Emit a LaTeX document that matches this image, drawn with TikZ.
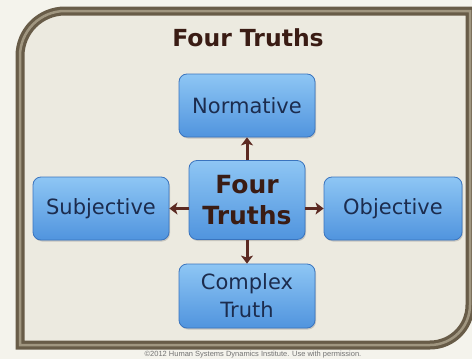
\documentclass[tikz,border=0pt]{standalone}
\usepackage{fontspec}
\setmainfont{DejaVu Sans}
\newfontfamily\notefont{Liberation Sans}
\usepackage{xcolor}
\usetikzlibrary{arrows.meta,shadows,shadings}
\definecolor{paper}{RGB}{236,234,224}
\definecolor{frameouter}{RGB}{104,92,72}
\definecolor{framelight}{RGB}{160,150,128}
\definecolor{boxtop}{RGB}{142,198,244}
\definecolor{boxbottom}{RGB}{80,148,222}
\definecolor{boxline}{RGB}{58,116,190}
\definecolor{boxtext}{RGB}{28,44,78}
\definecolor{truthtext}{RGB}{58,28,20}
\definecolor{arrowred}{RGB}{92,42,34}

\tikzset{
  truthbox/.style={draw=boxline, line width=0.8pt, rounded corners=8pt,
    top color=boxtop, bottom color=boxbottom, align=center,
    text=boxtext, font=\fontsize{21}{28}\selectfont,
    drop shadow={shadow xshift=1pt, shadow yshift=-1.5pt, opacity=0.35}},
  link/.style={arrowred, line width=3pt,
    -{Stealth[length=8pt,width=12pt,inset=2pt]}}
}

\begin{document}
\begin{tikzpicture}[x=1pt,y=-1pt]
\useasboundingbox (0,0) rectangle (472,359);
\clip (0,0) rectangle (472,359);
\fill[paper!60!white] (0,0) rectangle (472,359);

% frame with the round corners top left and bottom right
\fill[paper] (20,56) -- (20,345) -- (430,345) arc (90:0:40) -- (470,11) -- (65,11) arc (270:180:45) -- cycle;
\draw[frameouter, line width=9pt] (20,56) -- (20,345) -- (430,345) arc (90:0:40) -- (470,11) -- (65,11) arc (270:180:45) -- cycle;
\draw[framelight, line width=2.5pt] (20,56) -- (20,345) -- (430,345) arc (90:0:40) -- (470,11) -- (65,11) arc (270:180:45) -- cycle;

\node[font=\bfseries\fontsize{23.5}{28}\selectfont, text=truthtext] (title) at (248,38) {Four Truths};

\node[truthbox, minimum width=116pt, minimum height=79pt, text=truthtext,
  font=\bfseries\fontsize{25}{31}\selectfont] (core) at (247,200) {Four\\Truths};
\node[truthbox, minimum width=136pt, minimum height=63pt] (norm) at (247,105.5) {Normative};
\node[truthbox, minimum width=136pt, minimum height=63pt] (subj) at (101,208.5) {Subjective};
\node[truthbox, minimum width=138pt, minimum height=63pt] (obj) at (393,208.5) {Objective};
\node[truthbox, minimum width=136pt, minimum height=64pt] (cplx) at (247,296) {Complex\\Truth};

\draw[link] (core.north) -- (norm.south);
\draw[link] (core.south) -- (cplx.north);
\draw[link] (subj.east -| core.west) -- (subj.east);
\draw[link] (obj.west -| core.east) -- (obj.west);

\node[font=\notefont\fontsize{7.5}{8}\selectfont, text=black!55] (note) at (253,354.5)
  {©2012 Human Systems Dynamics Institute. Use with permission.};
\end{tikzpicture}
\end{document}
